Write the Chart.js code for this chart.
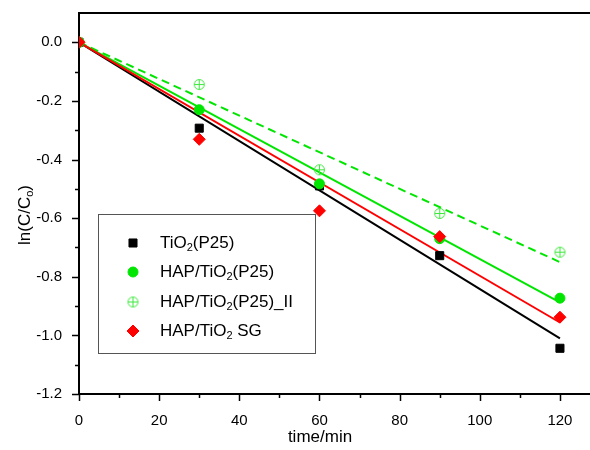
<!DOCTYPE html>
<html>
<head>
<meta charset="utf-8">
<script src="https://cdn.jsdelivr.net/npm/chart.js@4/dist/chart.umd.min.js"></script>
<style>
  body { margin: 0; background: #fff; }
  #wrap { width: 590px; height: 450px; }
</style>
</head>
<body>
<div id="wrap"><canvas id="kinChart" width="590" height="450"></canvas></div>
<script>
// time axis (min)
const timeMin = [0, 30, 60, 90, 120];

// measured ln(C/Co)
const tio2P25 = [0, -0.293, -0.49, -0.728, -1.044];
const hapP25 = [0, -0.23, -0.483, -0.67, -0.873];
const hapP25II = [0, -0.144, -0.435, -0.584, -0.716];
const hapSG = [0, -0.331, -0.575, -0.663, -0.938];

// linear fits, start and end
const fitX = [0, 120];
const fitTio2 = [0, -1.01];
const fitHap = [0, -0.887];
const fitHapII = [0, -0.75];
const fitSG = [0, -0.956];

// ticks
const xLabelTicks = [0, 20, 40, 60, 80, 100, 120];
const yLabelTicks = [0, -0.2, -0.4, -0.6, -0.8, -1.0, -1.2];

const GREEN = '#00e600';
const GREEN_LIGHT = '#3de83d';
const FONT = '"Liberation Sans", Arial, sans-serif';

function pts(xs, ys) {
    return xs.map((x, i) => ({ x: x, y: ys[i] }));
}

// circle with a plus inside, for the _II series
function crossedCircle() {
    const c = document.createElement('canvas');
    c.width = 13;
    c.height = 13;
    const g = c.getContext('2d');
    g.strokeStyle = GREEN_LIGHT;
    g.lineWidth = 1;
    g.beginPath();
    g.arc(6.5, 6.5, 5, 0, Math.PI * 2);
    g.moveTo(1.5, 6.5); g.lineTo(11.5, 6.5);
    g.moveTo(6.5, 1.5); g.lineTo(6.5, 11.5);
    g.stroke();
    return c;
}
const crossImg = crossedCircle();

// text pieces: [text, isSubscript]
const legendRows = [
    { style: 'rect', color: '#000', r: 5.7, parts: [['TiO', 0], ['2', 1], ['(P25)', 0]] },
    { style: 'circle', color: GREEN, r: 5, parts: [['HAP/TiO', 0], ['2', 1], ['(P25)', 0]] },
    { style: 'img', color: GREEN_LIGHT, r: 5, parts: [['HAP/TiO', 0], ['2', 1], ['(P25)_II', 0]] },
    { style: 'rectRot', color: '#ff0000', r: 6, parts: [['HAP/TiO', 0], ['2', 1], [' SG', 0]] }
];

function drawParts(ctx, parts, x, y, size, subSize) {
    parts.forEach(p => {
        if (p[1]) {
            ctx.font = subSize + 'px ' + FONT;
            ctx.fillText(p[0], x, y + 5);
        } else {
            ctx.font = size + 'px ' + FONT;
            ctx.fillText(p[0], x, y);
        }
        x += ctx.measureText(p[0]).width;
    });
    return x;
}

function partsWidth(ctx, parts, size, subSize) {
    let w = 0;
    parts.forEach(p => {
        ctx.font = (p[1] ? subSize : size) + 'px ' + FONT;
        w += ctx.measureText(p[0]).width;
    });
    return w;
}

// keep the plot area exactly where the frame is
function noPad(s) {
    s.paddingTop = 0;
    s.paddingBottom = 0;
    s.paddingLeft = 0;
    s.paddingRight = 0;
}

const decorPlugin = {
    id: 'decor',
    afterDraw(chart) {
        const ctx = chart.ctx;
        const xs = chart.scales.x;
        const ys = chart.scales.y;
        const area = chart.chartArea;
        ctx.save();

        // top frame line
        ctx.strokeStyle = '#000';
        ctx.lineWidth = 2;
        ctx.beginPath();
        ctx.moveTo(area.left - 1, area.top);
        ctx.lineTo(area.right, area.top);
        ctx.stroke();

        // ticks on x, major every 20 and minor every 10
        ctx.lineWidth = 1.5;
        ctx.beginPath();
        for (let v = 0; v <= 120; v += 10) {
            const px = Math.round(xs.getPixelForValue(v)) + 0.5;
            const len = v % 20 === 0 ? 7 : 4;
            ctx.moveTo(px, area.bottom);
            ctx.lineTo(px, area.bottom + len);
        }
        // ticks on y, major every 0.2 and minor every 0.1
        for (let k = -12; k <= 0; k++) {
            const py = Math.round(ys.getPixelForValue(k / 10)) + 0.5;
            const len = k % 2 === 0 ? 7 : 4;
            ctx.moveTo(area.left, py);
            ctx.lineTo(area.left - len, py);
        }
        ctx.stroke();

        // legend box
        ctx.strokeStyle = '#555';
        ctx.lineWidth = 1;
        ctx.strokeRect(98.5, 214.5, 217, 139);
        ctx.fillStyle = '#000';
        ctx.textBaseline = 'middle';
        ctx.textAlign = 'left';
        const rowY = [243, 272, 302, 331];
        legendRows.forEach((row, i) => {
            const y = rowY[i];
            if (row.style === 'img') {
                ctx.drawImage(crossImg, 133 - 6.5, y - 6.5);
            } else {
                ctx.fillStyle = row.color;
                ctx.strokeStyle = row.color;
                Chart.helpers.drawPoint(ctx, { pointStyle: row.style, radius: row.r, rotation: 0, borderWidth: 1 }, 133, y);
            }
            ctx.fillStyle = '#000';
            drawParts(ctx, row.parts, 160, y, 17, 11);
        });

        // x axis title
        ctx.font = '17px ' + FONT;
        ctx.textAlign = 'center';
        ctx.fillText('time/min', 320, 437);

        // y axis title, rotated, with subscript o
        const yParts = [['ln(C/C', 0], ['o', 1], [')', 0]];
        ctx.translate(25, 215);
        ctx.rotate(-Math.PI / 2);
        ctx.textAlign = 'left';
        const w = partsWidth(ctx, yParts, 17, 11);
        drawParts(ctx, yParts, -w / 2, 0, 17, 11);

        ctx.restore();
    }
};

const ctx = document.getElementById('kinChart').getContext('2d');
const kinChart = new Chart(ctx, {
    type: 'scatter',
    data: {
        datasets: [
            { label: 'HAP/TiO2 SG', data: pts(timeMin, hapSG), pointStyle: 'rectRot', pointRadius: 6, backgroundColor: '#ff0000', borderColor: '#ff0000', borderWidth: 1 },
            { label: 'HAP/TiO2(P25)', data: pts(timeMin, hapP25), pointStyle: 'circle', pointRadius: 5, backgroundColor: GREEN, borderColor: GREEN, borderWidth: 1 },
            { label: 'HAP/TiO2(P25)_II', data: pts(timeMin, hapP25II), pointStyle: crossImg, backgroundColor: GREEN_LIGHT, borderColor: GREEN_LIGHT },
            { label: 'TiO2(P25)', data: pts(timeMin, tio2P25), pointStyle: 'rect', pointRadius: 5.7, backgroundColor: '#000', borderColor: '#000', borderWidth: 1 },
            { label: 'fit SG', data: pts(fitX, fitSG), showLine: true, pointRadius: 0, borderColor: '#ff0000', borderWidth: 2 },
            { label: 'fit HAP', data: pts(fitX, fitHap), showLine: true, pointRadius: 0, borderColor: GREEN, borderWidth: 2 },
            { label: 'fit HAP II', data: pts(fitX, fitHapII), showLine: true, pointRadius: 0, borderColor: GREEN, borderWidth: 2, borderDash: [8, 5] },
            { label: 'fit TiO2', data: pts(fitX, fitTio2), showLine: true, pointRadius: 0, borderColor: '#000', borderWidth: 2 }
        ]
    },
    options: {
        responsive: false,
        animation: false,
        events: [],
        layout: { autoPadding: false, padding: { top: 13, right: 0, left: 0, bottom: 0 } },
        plugins: { legend: { display: false }, tooltip: { enabled: false } },
        scales: {
            x: {
                type: 'linear',
                min: 0,
                max: 127.5,
                afterFit: s => { s.height = 56; noPad(s); },
                grid: { display: false },
                border: { display: true, color: '#000', width: 2 },
                ticks: {
                    stepSize: 10,
                    includeBounds: false,
                    maxRotation: 0,
                    autoSkip: false,
                    padding: 10,
                    color: '#000',
                    font: { family: FONT, size: 15 },
                    callback: v => xLabelTicks.includes(v) ? String(v) : ''
                }
            },
            y: {
                type: 'linear',
                min: -1.2,
                max: 0.1,
                afterFit: s => { s.width = 79; noPad(s); },
                grid: { display: false },
                border: { display: true, color: '#000', width: 2 },
                ticks: {
                    stepSize: 0.1,
                    includeBounds: false,
                    autoSkip: false,
                    padding: 9,
                    color: '#000',
                    font: { family: FONT, size: 15 },
                    callback: v => {
                        const r = Math.round(v * 10) / 10;
                        return yLabelTicks.some(t => Math.abs(t - r) < 1e-9) ? (r === 0 ? '0.0' : r.toFixed(1)) : '';
                    }
                }
            }
        }
    },
    plugins: [decorPlugin]
});
</script>
</body>
</html>
